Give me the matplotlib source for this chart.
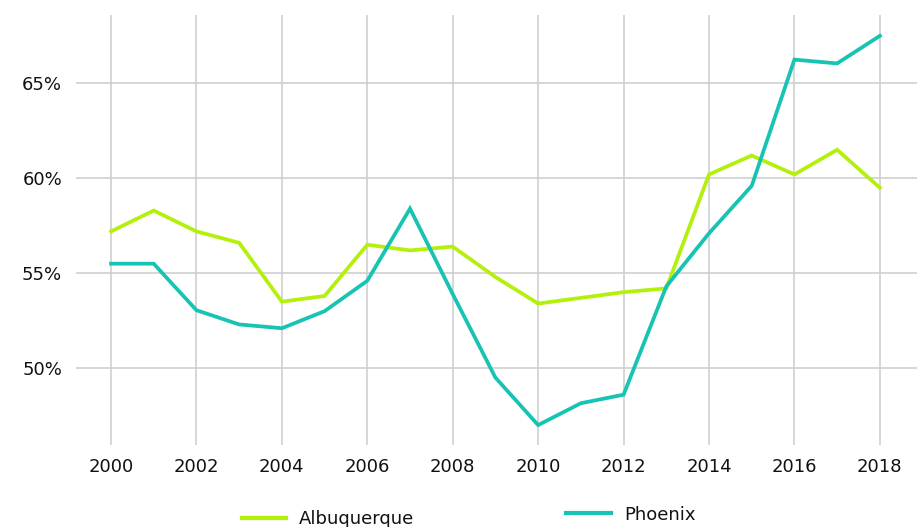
import matplotlib
matplotlib.use("Agg")
import matplotlib.pyplot as plt
from matplotlib.lines import Line2D

years = list(range(2000, 2019))
albuquerque = [57.2, 58.3, 57.2, 56.6, 53.5, 53.8, 56.5, 56.2, 56.4, 54.8,
               53.4, 53.7, 54.0, 54.2, 60.2, 61.2, 60.2, 61.5, 59.5]
phoenix = [55.5, 55.5, 53.05, 52.3, 52.1, 53.0, 54.6, 58.4, 53.9, 49.5,
           47.0, 48.15, 48.6, 54.3, 57.1, 59.6, 66.25, 66.05, 67.5]
x_ticks = list(range(2000, 2019, 2))
y_ticks = [50, 55, 60, 65]

lime = "#b3f10c"
teal = "#17c3b2"
grid = "#cfcfcf"
font = "DejaVu Sans"
fs = 13

fig = plt.figure(figsize=(9.17, 5.27), dpi=100)
ax = fig.add_axes([76 / 917, 1 - 445 / 527, 1 - 76 / 917, (445 - 15) / 527])

ax.plot(years, albuquerque, color=lime, lw=2.7, solid_joinstyle="miter", zorder=3)
ax.plot(years, phoenix, color=teal, lw=2.7, solid_joinstyle="miter", zorder=3)

ax.set_xlim(1999.18, 2018.87)
ax.set_ylim(45.95, 68.6)
ax.set_xticks(x_ticks)
ax.set_yticks(y_ticks)
ax.set_xticklabels([str(y) for y in x_ticks], fontfamily=font, fontsize=fs)
ax.set_yticklabels([f"{v}%" for v in y_ticks], fontfamily=font, fontsize=fs)
ax.grid(True, color=grid, lw=1.2, zorder=0)
ax.tick_params(length=0, colors="#111111")
ax.tick_params(axis="x", pad=9)
ax.tick_params(axis="y", pad=10)
for s in ax.spines.values():
    s.set_visible(False)

# legend drawn below the axes
fig.add_artist(Line2D([242 / 917, 286 / 917], [1 - 518 / 527] * 2, color=lime, lw=3))
fig.text(299 / 917, 1 - 519 / 527, "Albuquerque", fontfamily=font, fontsize=fs,
         va="center", ha="left", color="#111111")
fig.add_artist(Line2D([566 / 917, 611 / 917], [1 - 513 / 527] * 2, color=teal, lw=3))
fig.text(624 / 917, 1 - 515 / 527, "Phoenix", fontfamily=font, fontsize=fs,
         va="center", ha="left", color="#111111")

fig.savefig("out.png", dpi=100)
